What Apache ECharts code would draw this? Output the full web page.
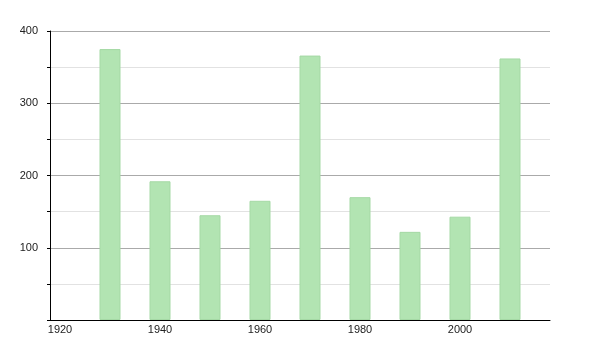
<!DOCTYPE html>
<html><head><meta charset="utf-8">
<script src="https://cdn.jsdelivr.net/npm/echarts@6/dist/echarts.min.js"></script>
<style>html,body{margin:0;padding:0;background:#fff}#c{width:600px;height:350px}</style>
</head><body><div id="c"></div>
<script>
const years = [1930, 1940, 1950, 1960, 1970, 1980, 1990, 2000, 2010];
const values = [375, 192, 145, 165, 366, 170, 122, 143, 362];
const xTickLabels = [1920, 1940, 1960, 1980, 2000];
const yTickLabels = [100, 200, 300, 400];

const chart = echarts.init(document.getElementById('c'), null, {renderer: 'canvas'});
chart.setOption({
  animation: false,
  grid: {left: 50, right: 50, top: 31, bottom: 30, containLabel: false},
  xAxis: {
    type: 'value', min: 1918, max: 2018,
    axisLine: {show: true, lineStyle: {color: '#000', width: 1}},
    axisTick: {show: false},
    splitLine: {show: false},
    axisLabel: {
      customValues: xTickLabels,
      color: '#222', fontFamily: 'Liberation Sans', fontSize: 11, margin: 4,
      formatter: v => String(v)
    }
  },
  yAxis: {
    type: 'value', min: 0, max: 400, interval: 50,
    axisLine: {show: true, lineStyle: {color: '#000', width: 1}},
    axisTick: {show: true, length: 3, lineStyle: {color: '#000'}},
    splitLine: {show: true, lineStyle: {color: ['#aaaaaa', '#e2e2e2'], width: 1}},
    axisLabel: {
      color: '#222', fontFamily: 'Liberation Sans', fontSize: 11, margin: 12,
      formatter: v => yTickLabels.includes(v) ? String(v) : ''
    }
  },
  series: [{
    type: 'bar',
    data: years.map((y, i) => [y, values[i]]),
    barWidth: 21,
    itemStyle: {color: '#b2e4b2', borderColor: '#a5d9a5', borderWidth: 1}
  }]
});
</script>
</body></html>
